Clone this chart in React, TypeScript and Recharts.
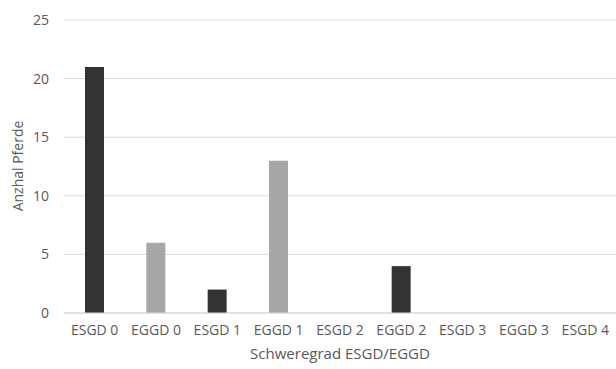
import { BarChart, Bar, XAxis, YAxis, CartesianGrid, Cell } from 'recharts';

// Werte
const categories = ['ESGD 0', 'EGGD 0', 'ESGD 1', 'EGGD 1', 'ESGD 2', 'EGGD 2', 'ESGD 3', 'EGGD 3', 'ESGD 4'];
const counts = [21, 6, 2, 13, 0, 4, 0, 0, 0];
const barColors = ['#333333', '#a6a7a9', '#333333', '#a6a7a9', '#333333', '#333333', '#333333', '#a6a7a9', '#333333'];
const yTicks = [0, 5, 10, 15, 20, 25];

const data = categories.map((name, i) => ({ name, value: counts[i] }));

const font = "'Open Sans', sans-serif";

const YLabel = () => (
  <text
    x={17}
    y={166}
    transform="rotate(-90, 17, 166)"
    textAnchor="middle"
    dominantBaseline="central"
    fill="#595959"
    fontSize={14}
    fontFamily={font}
  >
    Anzhal Pferde
  </text>
);

const App = () => {
  return (
    <div style={{ position: 'absolute', left: 0, top: 0, background: '#fff' }}>
      <BarChart width={616} height={369} data={data} margin={{ top: 20, right: 0, left: 0, bottom: 0 }}>
        <CartesianGrid vertical={false} stroke="#d9d9d9" />
        <XAxis
          dataKey="name"
          height={56}
          tickLine={false}
          axisLine={{ stroke: '#d9d9d9' }}
          interval={0}
          tickMargin={6}
          tick={{ fill: '#595959', fontSize: 14, fontFamily: font }}
          label={{ value: 'Schweregrad ESGD/EGGD', position: 'insideBottom', offset: 10, fill: '#595959', fontSize: 15, fontFamily: font }}
        />
        <YAxis
          width={64}
          domain={[0, 25]}
          ticks={yTicks}
          tickLine={false}
          axisLine={false}
          tickMargin={9}
          tick={{ fill: '#595959', fontSize: 14, fontFamily: font }}
          label={<YLabel />}
        />
        <Bar dataKey="value" barSize={19} isAnimationActive={false}>
          {data.map((d, i) => (
            <Cell key={d.name} fill={barColors[i]} />
          ))}
        </Bar>
      </BarChart>
    </div>
  );
};

export default App;
